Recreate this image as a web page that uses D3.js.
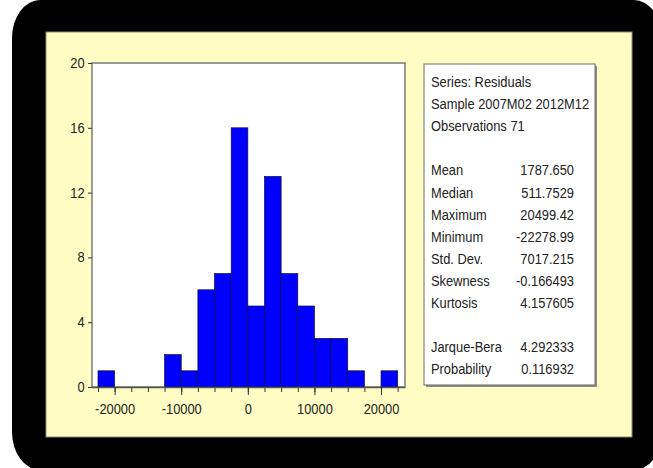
<!DOCTYPE html>
<html>
	<head>
		<meta charset='utf-8'>
		<title>Residuals histogram</title>
		<style>
			body,html
			{
				margin:0px;
				background:#ffffff;
			}
			svg text
			{
				font-family:'Liberation Sans', Arial, sans-serif;
				font-size:14px;
				fill:#222222;
			}
		</style>
		<script src='https://cdnjs.cloudflare.com/ajax/libs/d3/7.8.5/d3.min.js'></script>
	</head>
	<body>
	<svg id='chart' width='653' height='468'></svg>
	<script>

		// histogram bins (lower edge of each bin) and counts
		var binLow = [-22500, -20000, -17500, -15000, -12500, -10000, -7500, -5000, -2500,
			0, 2500, 5000, 7500, 10000, 12500, 15000, 17500, 20000];
		var counts = [1, 0, 0, 0, 2, 1, 6, 7, 16, 5, 13, 7, 5, 3, 3, 1, 0, 1];
		var binWidth = 2500;

		var xMinor = [-22500, -20000, -17500, -15000, -12500, -10000, -7500, -5000, -2500,
			0, 2500, 5000, 7500, 10000, 12500, 15000, 17500, 20000, 22500];
		var xLabels = [-20000, -10000, 0, 10000, 20000];
		var yLabels = [0, 4, 8, 12, 16, 20];

		// statistics panel
		var headLines = ['Series: Residuals', 'Sample 2007M02 2012M12', 'Observations 71'];
		var statNames = ['Mean', 'Median', 'Maximum', 'Minimum', 'Std. Dev.', 'Skewness', 'Kurtosis'];
		var statValues = ['1787.650', '511.7529', '20499.42', '-22278.99', '7017.215', '-0.166493', '4.157605'];
		var testNames = ['Jarque-Bera', 'Probability'];
		var testValues = ['4.292333', '0.116932'];

		var svg = d3.select('#chart');
		var squeeze = 0.92;

		// black rounded frame and yellow panel
		svg.append('rect')
			.attr('x', 12).attr('y', 0)
			.attr('width', 650).attr('height', 470)
			.attr('rx', 28).attr('ry', 38)
			.style('fill', '#000000');

		svg.append('rect')
			.attr('x', 46).attr('y', 32)
			.attr('width', 586).attr('height', 405)
			.style('fill', '#fffdc4')
			.style('stroke', '#8a8a70')
			.style('stroke-width', 1);

		var plot = {left:92, right:405, top:63, bottom:387};

		var x = d3.scaleLinear().domain([-23400, 23600]).range([plot.left, plot.right]);
		var y = d3.scaleLinear().domain([0, 20]).range([plot.bottom, plot.top]);

		// plot background with frame
		svg.append('rect')
			.attr('x', plot.left).attr('y', plot.top)
			.attr('width', plot.right - plot.left).attr('height', plot.bottom - plot.top)
			.style('fill', '#ffffff')
			.style('stroke', '#7a7a7a')
			.style('stroke-width', 1.5);

		// bars
		svg.append('g').selectAll('rect')
			.data(binLow.map(function(d, i){ return {lo:d, n:counts[i]}; }).filter(function(d){ return d.n > 0; }))
			.enter()
			.append('rect')
			.attr('x', function(d){ return x(d.lo); })
			.attr('y', function(d){ return y(d.n); })
			.attr('width', function(d){ return x(d.lo + binWidth) - x(d.lo); })
			.attr('height', function(d){ return y(0) - y(d.n); })
			.style('fill', '#0000ff')
			.style('stroke', '#111133')
			.style('stroke-width', 0.7);

		// x axis: minor ticks, then labelled ticks
		var xMinorAxis = d3.axisBottom(x).tickValues(xMinor).tickSize(5).tickFormat('');
		svg.append('g')
			.attr('transform', 'translate(0,' + plot.bottom + ')')
			.call(xMinorAxis)
			.call(function(g){ g.select('.domain').remove(); });

		var xAxis = d3.axisBottom(x).tickValues(xLabels).tickSize(8).tickPadding(6)
			.tickFormat(function(d){ return String(d); });
		var gx = svg.append('g')
			.attr('transform', 'translate(0,' + plot.bottom + ')')
			.call(xAxis);
		gx.select('.domain').attr('d', 'M' + plot.left + ',0.5H' + plot.right).style('stroke', '#555').style('stroke-width', 1.5);
		gx.selectAll('text').attr('transform', 'scale(' + squeeze + ',1)').attr('dy', '0.95em');

		var yAxis = d3.axisLeft(y).tickValues(yLabels).tickSize(4).tickPadding(3);
		var gy = svg.append('g')
			.attr('transform', 'translate(' + plot.left + ',0)')
			.call(yAxis);
		gy.select('.domain').remove();
		gy.selectAll('text').attr('transform', 'scale(' + squeeze + ',1)').attr('x', -8);

		svg.selectAll('.tick line').style('stroke', '#333');
		svg.selectAll('.tick text').style('font-size', '14px').style('fill', '#222');

		// statistics box
		var box = {left:424, top:64, right:595, bottom:385};
		svg.append('rect')
			.attr('x', box.left + 2).attr('y', box.top + 2)
			.attr('width', box.right - box.left).attr('height', box.bottom - box.top)
			.style('fill', '#8c8c8c');
		svg.append('rect')
			.attr('x', box.left).attr('y', box.top)
			.attr('width', box.right - box.left).attr('height', box.bottom - box.top)
			.style('fill', '#ffffff')
			.style('stroke', '#6a6a6a')
			.style('stroke-width', 1);

		var lineStep = 22.1;
		var firstBase = 87;
		var labelX = 431;
		var valueX = 574;

		var rows = [];
		headLines.forEach(function(t, i){ rows.push({row:i, label:t, value:''}); });
		statNames.forEach(function(t, i){ rows.push({row:4 + i, label:t, value:statValues[i]}); });
		testNames.forEach(function(t, i){ rows.push({row:12 + i, label:t, value:testValues[i]}); });

		var stats = svg.append('g');
		stats.selectAll('text.lab')
			.data(rows)
			.enter()
			.append('text')
			.attr('class', 'lab')
			.attr('transform', function(d){ return 'translate(' + labelX + ',' + (firstBase + d.row * lineStep) + ') scale(' + squeeze + ',1)'; })
			.text(function(d){ return d.label; });

		stats.selectAll('text.val')
			.data(rows.filter(function(d){ return d.value !== ''; }))
			.enter()
			.append('text')
			.attr('class', 'val')
			.attr('text-anchor', 'end')
			.attr('transform', function(d){ return 'translate(' + valueX + ',' + (firstBase + d.row * lineStep) + ') scale(' + squeeze + ',1)'; })
			.text(function(d){ return d.value; });

	</script>
	</body>
</html>
